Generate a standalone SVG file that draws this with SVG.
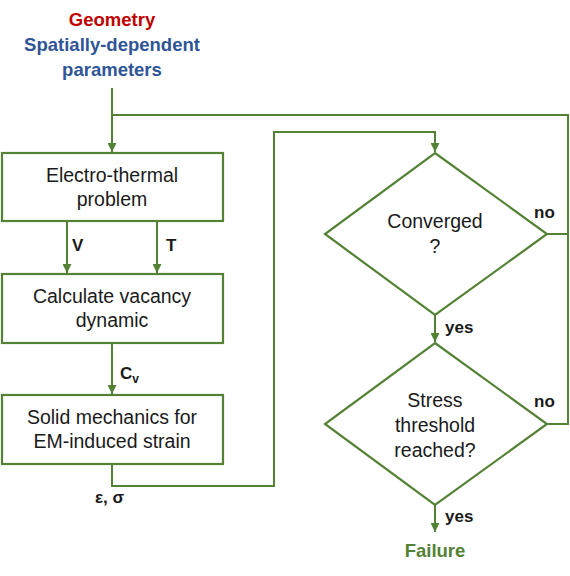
<svg xmlns="http://www.w3.org/2000/svg" width="570" height="576" viewBox="0 0 570 576">
<defs>
<marker id="ah" viewBox="0 0 10 10" refX="10" refY="5" markerWidth="4.5" markerHeight="4.5" orient="auto" markerUnits="strokeWidth">
<path d="M0,0 L10,5 L0,10 z" fill="#548235"/>
</marker>
</defs>
<style>
.box{fill:#fff;stroke:#548235;stroke-width:2.2}
.ln{fill:none;stroke:#548235;stroke-width:2}
.t{font-family:"Liberation Sans",Arial,sans-serif;font-size:19.5px;fill:#1a1a1a;text-anchor:middle}
.b{font-family:"Liberation Sans",Arial,sans-serif;font-size:17px;font-weight:bold;fill:#1a1a1a}
.h{font-family:"Liberation Sans",Arial,sans-serif;font-size:18.5px;font-weight:bold;text-anchor:middle}
</style>
<rect width="570" height="576" fill="#fff"/>
<g id="title">
<text class="h" x="112" y="26" fill="#c00000">Geometry</text>
<text class="h" x="112" y="51" fill="#2f5597">Spatially-dependent</text>
<text class="h" x="112" y="76" fill="#2f5597">parameters</text>
</g>
<g id="connectors">
<path class="ln" d="M112,88 V152" marker-end="url(#ah)"/>
<path class="ln" d="M112,115 H568 V424 H547"/>
<path class="ln" d="M547,234 H568"/>
<path class="ln" d="M67,221 V273" marker-end="url(#ah)"/>
<path class="ln" d="M157,221 V273" marker-end="url(#ah)"/>
<path class="ln" d="M112,343 V394" marker-end="url(#ah)"/>
<path class="ln" d="M112,464 V486 H274 V132 H435 V152" marker-end="url(#ah)"/>
<path class="ln" d="M435,315 V342" marker-end="url(#ah)"/>
<path class="ln" d="M435,505 V532" marker-end="url(#ah)"/>
<text class="b" x="72" y="251">V</text>
<text class="b" x="166" y="251">T</text>
<text class="b" x="120" y="379">C<tspan font-size="12" dy="4">v</tspan></text>
<text class="b" x="95" y="503">ε, σ</text>
<text class="b" x="534" y="218">no</text>
<text class="b" x="534" y="407">no</text>
<text class="b" x="445" y="333">yes</text>
<text class="b" x="445" y="522">yes</text>
</g>
<g id="box1">
<rect class="box" x="2" y="153" width="221" height="68"/>
<text class="t" x="112" y="182">Electro-thermal</text>
<text class="t" x="112" y="206">problem</text>
</g>
<g id="box2">
<rect class="box" x="2" y="274" width="221" height="69"/>
<text class="t" x="112" y="303">Calculate vacancy</text>
<text class="t" x="112" y="327">dynamic</text>
</g>
<g id="box3">
<rect class="box" x="2" y="395" width="221" height="69"/>
<text class="t" x="112" y="424">Solid mechanics for</text>
<text class="t" x="112" y="448">EM-induced strain</text>
</g>
<g id="converged">
<path class="box" d="M435,153 L547,234 L435,315 L325,234 Z"/>
<text class="t" x="435" y="228">Converged</text>
<text class="t" x="435" y="253">?</text>
</g>
<g id="stress">
<path class="box" d="M435,343 L547,424 L435,505 L325,424 Z"/>
<text class="t" x="435" y="407">Stress</text>
<text class="t" x="435" y="432">threshold</text>
<text class="t" x="435" y="457">reached?</text>
</g>
<g id="failure">
<text class="h" x="435" y="557" fill="#548235">Failure</text>
</g>
</svg>
